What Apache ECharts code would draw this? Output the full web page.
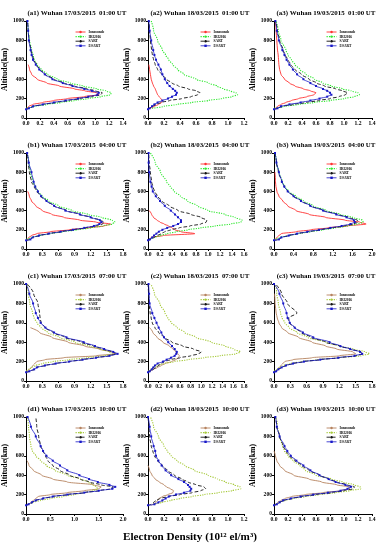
<!DOCTYPE html>
<html><head><meta charset="utf-8">
<script src="https://cdn.jsdelivr.net/npm/echarts@6/dist/echarts.min.js"></script>
<style>html,body{margin:0;padding:0;background:#fff}#c{width:381px;height:550px}</style>
</head><body><div id="c"></div>
<script>
// Altitude grid (km)
const ALT = [90,100,120,140,160,180,200,220,240,260,280,300,330,360,400,450,500,550,600,650,700,800,900,1000];
const SERIES_NAMES = ['Ionosonde','IRI2016','SART','ESART'];
const TITLES = [
 '(a1) Wuhan 17/03/2015  01:00 UT','(a2) Wuhan 18/03/2015  01:00 UT','(a3) Wuhan 19/03/2015  01:00 UT',
 '(b1) Wuhan 17/03/2015  04:00 UT','(b2) Wuhan 18/03/2015  04:00 UT','(b3) Wuhan 19/03/2015  04:00 UT',
 '(c1) Wuhan 17/03/2015  07:00 UT','(c2) Wuhan 18/03/2015  07:00 UT','(c3) Wuhan 19/03/2015  07:00 UT',
 '(d1) Wuhan 17/03/2015  10:00 UT','(d2) Wuhan 18/03/2015  10:00 UT','(d3) Wuhan 19/03/2015  10:00 UT'];
const X_MAX  = [1.4,1.2,1.4, 1.8,1.6,2.0, 1.8,1.8,1.8, 2.0,1.2,1.4];
const X_STEP = [0.2,0.2,0.2, 0.3,0.2,0.4, 0.3,0.2,0.3, 0.5,0.2,0.2];
const Y_MAX = 1000, Y_STEP = 200;

// Electron density (10^12 el/m^3) at ALT, per panel
const ionA1=[0.0,0.01,0.04,0.1,0.24,0.4,0.6,0.84,1.05,1.02,0.85,0.7,0.48,0.3,0.16,0.08,0.05,0.03,null,null,null,null,null,null];
const iriA1=[null,0.0,0.12,0.3,0.5,0.7,0.9,1.08,1.22,1.23,1.15,1.02,0.82,0.64,0.45,0.31,0.22,0.16,0.12,0.1,0.08,0.05,0.03,0.02];
const sartA1=[0.0,0.04,0.1,0.25,0.42,0.6,0.78,0.95,1.08,1.1,1.0,0.88,0.7,0.55,0.4,0.28,0.2,0.15,0.11,0.09,0.07,0.045,0.03,0.02];
const esartA1=[0.0,0.04,0.1,0.24,0.4,0.57,0.75,0.9,1.03,1.05,0.95,0.84,0.67,0.53,0.38,0.27,0.19,0.14,0.1,0.08,0.065,0.04,0.03,0.02];

const ionA2=[0.0,0.03,0.08,0.13,0.17,0.18,0.16,0.14,0.12,0.11,0.1,0.09,0.07,0.055,0.04,0.03,0.02,0.01,null,null,null,null,null,null];
const iriA2=[null,0.05,0.2,0.36,0.55,0.75,0.92,1.05,1.12,1.1,1.02,0.94,0.86,0.76,0.6,0.45,0.37,0.31,0.26,0.22,0.18,0.12,0.07,0.04];
const sartA2=[0.0,0.02,0.06,0.1,0.16,0.27,0.42,0.54,0.62,0.65,0.6,0.5,0.38,0.3,0.23,0.17,0.12,0.09,0.07,0.055,0.045,0.03,0.02,0.01];
const esartA2=[0.0,0.02,0.05,0.08,0.12,0.18,0.25,0.3,0.35,0.36,0.34,0.31,0.27,0.24,0.21,0.18,0.16,0.13,0.1,0.08,0.065,0.04,0.02,0.01];

const ionA3=[0.0,0.02,0.05,0.1,0.17,0.25,0.35,0.47,0.57,0.6,0.52,0.42,0.3,0.22,0.15,0.1,0.08,0.07,0.065,0.06,0.05,0.04,0.03,0.02];
const iriA3=[null,0.0,0.15,0.35,0.57,0.8,1.0,1.15,1.22,1.2,1.1,0.98,0.82,0.7,0.58,0.46,0.37,0.3,0.25,0.2,0.17,0.1,0.06,0.03];
const sartA3=[0.0,0.05,0.12,0.28,0.46,0.64,0.8,0.93,1.02,1.05,0.98,0.88,0.72,0.61,0.5,0.39,0.3,0.24,0.2,0.16,0.13,0.08,0.05,0.02];
const esartA3=[0.0,0.05,0.1,0.22,0.38,0.52,0.65,0.76,0.82,0.8,0.76,0.7,0.6,0.52,0.42,0.33,0.27,0.22,0.18,0.15,0.12,0.07,0.04,0.02];

const ionB1=[0.0,0.02,0.05,0.1,0.2,0.45,0.8,1.15,1.45,1.57,1.3,1.0,0.7,0.48,0.3,0.18,0.1,0.06,0.03,null,null,null,null,null];
const iriB1=[null,0.0,0.1,0.25,0.45,0.68,0.95,1.2,1.42,1.6,1.65,1.6,1.4,1.15,0.85,0.6,0.42,0.3,0.22,0.17,0.13,0.08,0.05,0.02];
const sartB1=[0.0,0.08,0.12,0.24,0.42,0.64,0.88,1.1,1.3,1.42,1.45,1.38,1.2,1.0,0.75,0.52,0.38,0.27,0.2,0.15,0.1,0.06,0.04,0.02];
const esartB1=[0.0,0.08,0.12,0.24,0.42,0.64,0.87,1.08,1.26,1.36,1.4,1.37,1.2,1.0,0.73,0.52,0.38,0.28,0.22,0.17,0.14,0.1,0.05,0.02];

const ionB2=[0.02,0.03,0.05,0.25,0.78,0.55,0.45,0.4,0.34,0.27,0.2,0.15,0.09,0.06,0.02,null,null,null,null,null,null,null,null,null];
const iriB2=[null,0.02,0.1,0.2,0.32,0.48,0.66,0.88,1.12,1.38,1.55,1.57,1.45,1.28,1.0,0.82,0.66,0.54,0.44,0.37,0.31,0.21,0.12,0.04];
const sartB2=[0.0,0.04,0.1,0.16,0.22,0.28,0.38,0.52,0.7,0.88,0.97,0.98,0.88,0.72,0.5,0.35,0.23,0.16,0.11,0.08,0.06,0.04,0.02,0.01];
const esartB2=[0.0,0.03,0.07,0.1,0.14,0.18,0.24,0.32,0.42,0.5,0.55,0.55,0.5,0.45,0.38,0.28,0.2,0.13,0.08,0.06,0.04,0.02,0.01,0.01];

const ionB3=[0.0,0.02,0.06,0.1,0.15,0.45,0.75,1.1,1.5,1.88,1.75,1.45,1.05,0.72,0.45,0.28,0.18,0.1,0.06,0.04,0.03,0.02,null,null];
const iriB3=[null,0.0,0.12,0.3,0.5,0.75,1.0,1.25,1.5,1.7,1.82,1.8,1.6,1.35,1.07,0.8,0.6,0.44,0.3,0.22,0.17,0.1,0.05,0.02];
const sartB3=[0.0,0.1,0.15,0.3,0.48,0.7,0.95,1.2,1.43,1.62,1.72,1.7,1.52,1.3,1.02,0.75,0.56,0.4,0.28,0.21,0.16,0.09,0.05,0.02];
const esartB3=[0.0,0.1,0.15,0.3,0.47,0.68,0.92,1.15,1.38,1.56,1.65,1.63,1.48,1.27,1.0,0.74,0.55,0.4,0.28,0.21,0.16,0.1,0.05,0.02];

const ionC1=[null,0.0,0.06,0.1,0.13,0.16,0.2,0.35,0.7,1.3,1.65,1.58,1.35,1.09,0.78,0.48,0.25,0.08,null,null,null,null,null,null];
const iriC1=[null,0.0,0.04,0.1,0.18,0.3,0.5,0.8,1.15,1.45,1.6,1.55,1.38,1.18,0.9,0.62,0.4,0.28,0.2,0.15,0.12,0.07,0.04,0.02];
const sartC1=[0.0,0.06,0.15,0.2,0.35,0.55,0.8,1.05,1.3,1.55,1.68,1.6,1.42,1.25,1.03,0.72,0.5,0.35,0.28,0.26,0.25,0.22,0.14,0.02];
const esartC1=[0.0,0.06,0.15,0.2,0.35,0.55,0.8,1.05,1.3,1.55,1.7,1.62,1.45,1.28,1.07,0.75,0.52,0.36,0.27,0.22,0.18,0.13,0.06,0.0];

const ionC2=[null,0.02,0.1,0.18,0.25,0.32,0.44,0.52,0.57,0.59,0.56,0.52,0.47,0.4,0.28,0.17,0.09,0.03,null,null,null,null,null,null];
const iriC2=[null,0.0,0.05,0.1,0.18,0.3,0.5,0.75,1.05,1.35,1.65,1.73,1.6,1.45,1.19,0.9,0.69,0.55,0.44,0.37,0.32,0.22,0.12,0.05];
const sartC2=[0.0,0.04,0.1,0.15,0.2,0.25,0.31,0.42,0.6,0.8,0.95,1.0,0.85,0.65,0.45,0.3,0.2,0.13,0.08,0.06,0.04,0.02,0.01,0.0];
const esartC2=[0.0,0.03,0.07,0.1,0.13,0.18,0.28,0.35,0.43,0.5,0.53,0.54,0.5,0.45,0.38,0.3,0.25,0.2,0.16,0.12,0.08,0.03,0.02,0.01];

const ionC3=[null,0.02,0.06,0.1,0.13,0.16,0.2,0.35,0.7,1.2,1.5,1.45,1.15,0.95,0.7,0.45,0.25,0.14,0.09,0.06,0.04,0.02,0.01,null];
const iriC3=[null,0.0,0.05,0.1,0.18,0.3,0.5,0.8,1.2,1.6,1.75,1.68,1.45,1.2,0.95,0.62,0.42,0.28,0.2,0.15,0.12,0.08,0.05,0.03];
const sartC3=[0.0,0.04,0.08,0.14,0.22,0.35,0.55,0.85,1.2,1.5,1.63,1.6,1.4,1.2,0.95,0.68,0.5,0.38,0.28,0.27,0.42,0.25,0.14,0.03];
const esartC3=[0.0,0.04,0.08,0.14,0.22,0.35,0.55,0.85,1.18,1.48,1.62,1.58,1.4,1.22,1.02,0.72,0.53,0.38,0.29,0.25,0.23,0.17,0.1,0.0];

const ionD1=[null,0.05,0.1,0.15,0.2,0.25,0.5,0.85,1.2,1.5,1.55,1.4,0.85,0.55,0.32,0.15,0.06,0.02,null,null,null,null,null,null];
const iriD1=[null,0.05,0.15,0.3,0.5,0.75,1.0,1.2,1.38,1.48,1.45,1.38,1.28,1.12,0.85,0.6,0.42,0.3,0.2,0.13,0.1,0.07,0.05,0.03];
const sartD1=[0.0,0.05,0.12,0.2,0.35,0.55,0.85,1.2,1.5,1.75,1.8,1.55,1.3,1.12,0.9,0.7,0.55,0.45,0.4,0.35,0.3,0.26,0.22,0.2];
const esartD1=[0.0,0.05,0.12,0.2,0.35,0.55,0.85,1.2,1.5,1.78,1.84,1.72,1.48,1.3,1.1,0.85,0.7,0.55,0.42,0.35,0.3,0.2,0.1,0.03];

const ionD2=[0.04,0.06,0.1,0.12,0.14,0.18,0.25,0.31,0.32,0.28,0.23,0.2,0.14,0.09,0.05,0.02,0.0,null,null,null,null,null,null,null];
const iriD2=[null,0.06,0.17,0.28,0.4,0.55,0.7,0.88,1.05,1.16,1.15,1.08,0.97,0.87,0.75,0.58,0.46,0.36,0.29,0.24,0.2,0.13,0.07,0.03];
const sartD2=[0.0,0.04,0.07,0.1,0.15,0.25,0.4,0.55,0.66,0.72,0.7,0.6,0.5,0.42,0.33,0.24,0.18,0.12,0.08,0.06,0.04,0.02,0.01,0.0];
const esartD2=[0.0,0.08,0.13,0.18,0.22,0.26,0.35,0.45,0.53,0.54,0.52,0.5,0.45,0.38,0.29,0.22,0.17,0.13,0.1,0.09,0.07,0.04,0.02,0.0];

const ionD3=[null,0.02,0.05,0.1,0.16,0.25,0.45,0.7,0.95,1.08,1.07,0.9,0.68,0.5,0.28,0.15,0.08,0.04,0.02,0.0,null,null,null,null];
const iriD3=[null,0.02,0.08,0.16,0.28,0.45,0.65,0.88,1.08,1.24,1.23,1.15,0.98,0.82,0.6,0.45,0.37,0.27,0.2,0.15,0.12,0.08,0.05,0.03];
const sartD3=[0.0,0.04,0.08,0.14,0.25,0.4,0.6,0.82,1.0,1.13,1.15,1.05,0.9,0.78,0.65,0.5,0.4,0.3,0.22,0.17,0.13,0.08,0.04,0.02];
const esartD3=[0.0,0.04,0.08,0.13,0.24,0.38,0.56,0.77,0.95,1.05,1.1,1.02,0.88,0.78,0.65,0.52,0.42,0.32,0.24,0.19,0.15,0.08,0.04,0.02];

const PANEL_DATA = [
 [ionA1,iriA1,sartA1,esartA1],[ionA2,iriA2,sartA2,esartA2],[ionA3,iriA3,sartA3,esartA3],
 [ionB1,iriB1,sartB1,esartB1],[ionB2,iriB2,sartB2,esartB2],[ionB3,iriB3,sartB3,esartB3],
 [ionC1,iriC1,sartC1,esartC1],[ionC2,iriC2,sartC2,esartC2],[ionC3,iriC3,sartC3,esartC3],
 [ionD1,iriD1,sartD1,esartD1],[ionD2,iriD2,sartD2,esartD2],[ionD3,iriD3,sartD3,esartD3]];

// ---- layout / style ----
const COL_LEFT = [23,148,274], COL_W = [100,96,98];
const ROW_TOP = [21,153,284,417], ROW_H = [97,96,97,97];
const TITLE_CX = [77,200,326], TITLE_W = 99;
const FONT = 'Liberation Serif';
const mctx = document.createElement('canvas').getContext('2d');
function fitSize(text, targetW){
  mctx.font = 'bold 20px "' + FONT + '", serif';
  return 20 * targetW / mctx.measureText(text).width;
}
function styleFor(row){
  const late = row >= 2;
  return [
    {color: late ? '#b5825e' : '#ff3030', type:'solid', width:0.9},
    {color: late ? '#a6c93a' : '#2ee82e', type:[1.2,1.2], width:1.1},
    {color:'#111', type:[3.5,2], width:0.9},
    {color:'#1818c8', type:'solid', width:0.8}
  ];
}

const grids=[], xAxes=[], yAxes=[], series=[], legends=[], graphics=[];
for (let p=0;p<12;p++){
  const r=Math.floor(p/3), c=p%3;
  const left=COL_LEFT[c], top=ROW_TOP[r], w=COL_W[c], h=ROW_H[r];
  grids.push({left:left, top:top, width:w, height:h, containLabel:false});
  xAxes.push({type:'value', gridIndex:p, min:0, max:X_MAX[p], interval:X_STEP[p],
    axisLine:{show:true,lineStyle:{color:'#000',width:1}}, axisTick:{show:true,length:2,lineStyle:{color:'#000'}},
    splitLine:{show:false},
    axisLabel:{fontSize:5.6, fontFamily:FONT, fontWeight:'bold', color:'#000', margin:3,
      formatter:v=>v.toFixed(1)}});
  yAxes.push({type:'value', gridIndex:p, min:0, max:Y_MAX, interval:Y_STEP,
    name:'Altitude(km)', nameLocation:'middle', nameRotate:90, nameGap:14,
    nameTextStyle:{fontSize:fitSize('Altitude(km)',43), fontFamily:FONT, fontWeight:'bold', color:'#000'},
    axisLine:{show:true,lineStyle:{color:'#000',width:1}}, axisTick:{show:true,length:2,lineStyle:{color:'#000'}},
    splitLine:{show:false},
    axisLabel:{fontSize:5.6, fontFamily:FONT, fontWeight:'bold', color:'#000', margin:2,
      formatter:v=>String(v)}});
  const st=styleFor(r);
  PANEL_DATA[p].forEach((arr,k)=>{
    const data=[]; arr.forEach((v,i)=>{ if(v!==null) data.push([v,ALT[i]]); });
    const s={type:'line', name:SERIES_NAMES[k], xAxisIndex:p, yAxisIndex:p, data:data,
      smooth:0.3, smoothMonotone:'y', animation:false, silent:true,
      lineStyle:{color:st[k].color, type:st[k].type, width:st[k].width},
      itemStyle:{color:st[k].color}, z: k===3?5:(k===2?4:3)};
    if(k===3){ s.symbol='rect'; s.symbolSize=2; s.showSymbol=true; }
    else { s.symbol='none'; }
    series.push(s);
  });
  legends.push({left:left+52, top:top+9, orient:'vertical', itemWidth:10, itemHeight:3, itemGap:0.6, padding:0,
    selectedMode:false,
    textStyle:{fontSize:3.6, fontFamily:FONT, fontWeight:'bold', color:'#000', padding:[0,0,0,-2]},
    data:SERIES_NAMES.map((n,k)=>({name:n,
      itemStyle:{color:st[k].color}, lineStyle:{color:st[k].color, type:st[k].type, width:st[k].width}}))});
  graphics.push({type:'text', x:TITLE_CX[c], y:top-8, style:{text:TITLES[p],
    fontSize:fitSize(TITLES[p], TITLE_W), fontFamily:FONT, fontWeight:'bold',
    align:'center', verticalAlign:'middle', textAlign:'center', textVerticalAlign:'middle', fill:'#000'}});
}
const XLABEL = 'Electron Density (10¹² el/m³)';
graphics.push({type:'text', x:190, y:537, style:{text:XLABEL,
  fontSize:fitSize(XLABEL,134), fontFamily:FONT, fontWeight:'bold',
  align:'center', verticalAlign:'middle', textAlign:'center', textVerticalAlign:'middle', fill:'#000'}});

const chart=echarts.init(document.getElementById('c'),null,{renderer:'canvas'});
chart.setOption({backgroundColor:'#fff', animation:false, grid:grids, xAxis:xAxes, yAxis:yAxes,
  series:series, legend:legends, graphic:graphics});
</script></body></html>
